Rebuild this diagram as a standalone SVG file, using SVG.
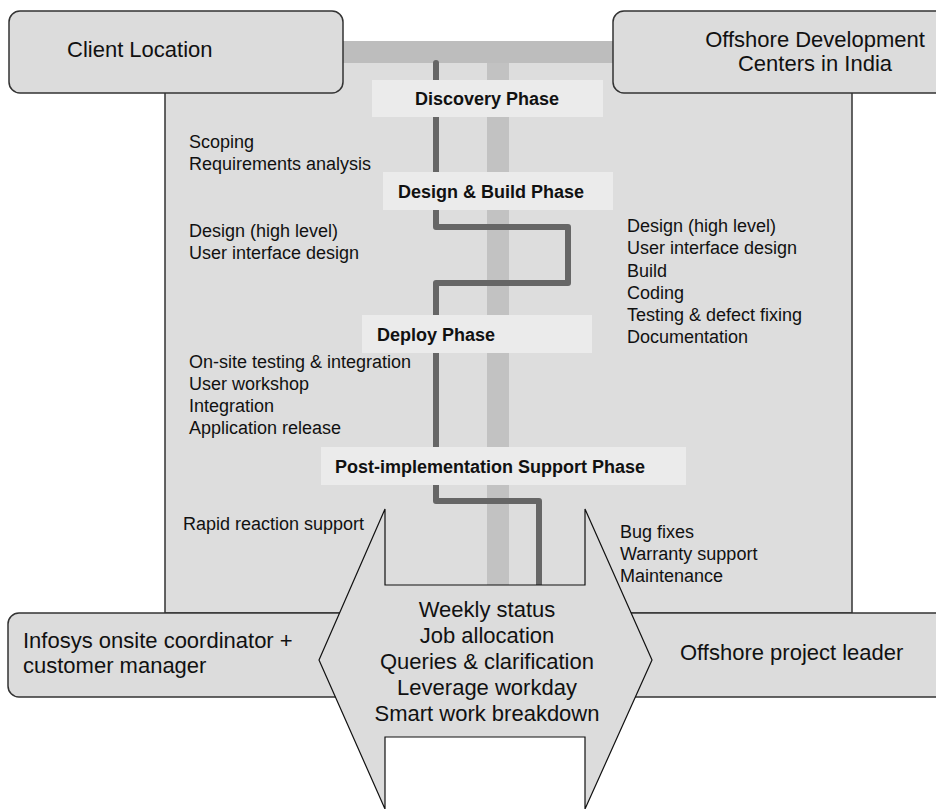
<svg xmlns="http://www.w3.org/2000/svg" width="936" height="809" viewBox="0 0 936 809">
<style>
.t{font-family:"Liberation Sans",Arial,sans-serif;font-size:18px;fill:#111}
.b{font-family:"Liberation Sans",Arial,sans-serif;font-size:18px;font-weight:bold;fill:#111}
.L{font-family:"Liberation Sans",Arial,sans-serif;font-size:22px;fill:#111}
.box{fill:#dcdcdc;stroke:#333;stroke-width:1.5}
.ph{fill:#ebebeb}
.ln{fill:none;stroke:#666;stroke-width:6;stroke-linecap:round;stroke-linejoin:round}
</style>
<rect width="936" height="809" fill="#fff"/>
<g id="panel">
<rect x="165" y="50" width="687" height="563" fill="#dddddd" stroke="#333" stroke-width="1.5"/>
<rect x="343" y="41" width="270" height="22" fill="#bdbdbd"/>
<rect x="487" y="63" width="22" height="522" fill="#c2c2c2"/>
</g>
<g id="connectors">
<path class="ln" d="M436 63V80"/>
<path class="ln" d="M436 117V172"/>
<path class="ln" d="M436 210V227H568V283H436V315"/>
<path class="ln" d="M436 353V448"/>
<path class="ln" d="M436 485V501H539V585"/>
</g>
<g id="discovery">
<rect class="ph" x="372" y="80" width="231" height="37"/>
<text class="b" x="487" y="105" text-anchor="middle">Discovery Phase</text>
</g>
<g id="design-build">
<rect class="ph" x="383" y="172" width="230" height="38"/>
<text class="b" x="398" y="198">Design &amp; Build Phase</text>
</g>
<g id="deploy">
<rect class="ph" x="362" y="315" width="230" height="38"/>
<text class="b" x="377" y="341">Deploy Phase</text>
</g>
<g id="post">
<rect class="ph" x="321" y="447" width="365" height="38"/>
<text class="b" x="335" y="473">Post-implementation Support Phase</text>
</g>
<g id="left-notes">
<text class="t" x="189" y="148">Scoping</text>
<text class="t" x="189" y="170">Requirements analysis</text>
<text class="t" x="189" y="237">Design (high level)</text>
<text class="t" x="189" y="259">User interface design</text>
<text class="t" x="189" y="368">On-site testing &amp; integration</text>
<text class="t" x="189" y="390">User workshop</text>
<text class="t" x="189" y="412">Integration</text>
<text class="t" x="189" y="434">Application release</text>
<text class="t" x="183" y="530">Rapid reaction support</text>
</g>
<g id="right-notes">
<text class="t" x="627" y="232">Design (high level)</text>
<text class="t" x="627" y="254">User interface design</text>
<text class="t" x="627" y="277">Build</text>
<text class="t" x="627" y="299">Coding</text>
<text class="t" x="627" y="321">Testing &amp; defect fixing</text>
<text class="t" x="627" y="343">Documentation</text>
<text class="t" x="620" y="538">Bug fixes</text>
<text class="t" x="620" y="560">Warranty support</text>
<text class="t" x="620" y="582">Maintenance</text>
</g>
<g id="client-location">
<rect class="box" x="9" y="11" width="334" height="82" rx="11"/>
<text class="L" x="67" y="57">Client Location</text>
</g>
<g id="offshore-centers">
<rect class="box" x="613" y="11" width="340" height="82" rx="11"/>
<text class="L" x="815" y="47" text-anchor="middle">Offshore Development</text>
<text class="L" x="815" y="71" text-anchor="middle">Centers in India</text>
</g>
<g id="onsite-coordinator">
<rect class="box" x="8" y="613" width="420" height="84" rx="11"/>
<text class="L" x="23" y="648">Infosys onsite coordinator +</text>
<text class="L" x="23" y="673">customer manager</text>
</g>
<g id="offshore-leader">
<rect class="box" x="560" y="613" width="400" height="84" rx="11"/>
<text class="L" x="680" y="660">Offshore project leader</text>
</g>
<g id="exchange-arrow">
<polygon points="385,509 385,585 585,585 585,509 652,660 585,809 585,737 385,737 385,809 319,660" fill="#dcdcdc" stroke="#111" stroke-width="1.2"/>
<text class="L" x="487" y="617" text-anchor="middle">Weekly status</text>
<text class="L" x="487" y="643" text-anchor="middle">Job allocation</text>
<text class="L" x="487" y="669" text-anchor="middle">Queries &amp; clarification</text>
<text class="L" x="487" y="695" text-anchor="middle">Leverage workday</text>
<text class="L" x="487" y="721" text-anchor="middle">Smart work breakdown</text>
</g>
</svg>
